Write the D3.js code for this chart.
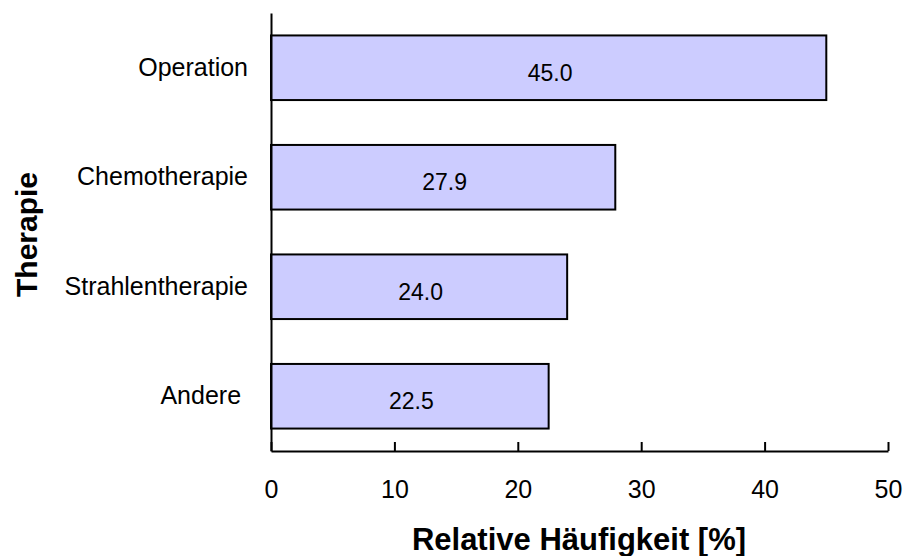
<!DOCTYPE html>
<html><head><meta charset="utf-8">
<script src="https://cdn.jsdelivr.net/npm/d3@7"></script>
<style>body{margin:0;background:#fff}svg{display:block;font-family:"Liberation Sans",Arial,sans-serif}</style>
</head><body><svg id="c" width="906" height="556"></svg>
<script>
const categories = ["Operation", "Chemotherapie", "Strahlentherapie", "Andere "];
const values = [45.0, 27.9, 24.0, 22.5];
const xTicks = [0, 10, 20, 30, 40, 50];
const xTitle = "Relative Häufigkeit [%]";
const yTitle = "Therapie";

const FF = "Liberation Sans, Arial, sans-serif";
const svg = d3.select("#c");
const pL = 271, pR = 888, pT = 13, pB = 451;
const x = d3.scaleLinear().domain([0, 50]).range([pL, pR]);
const y = d3.scaleBand().domain(categories).range([pT, pB]).paddingInner(0.41).paddingOuter(0.205);

// bars
svg.selectAll("rect.bar").data(values).enter().append("rect")
  .attr("x", x(0)).attr("y", (d,i)=>y(categories[i]))
  .attr("width", d=>x(d)-x(0)).attr("height", y.bandwidth())
  .attr("fill", "#ccccff").attr("stroke", "#000").attr("stroke-width", 2);

// value labels
svg.selectAll("text.val").data(values).enter().append("text")
  .attr("x", d=>(x(0)+x(d))/2 + 1.5).attr("y", (d,i)=>y(categories[i]) + y.bandwidth()/2 + 13)
  .attr("text-anchor", "middle").attr("font-size", 23).attr("font-family", FF).attr("fill", "#000")
  .text(d=>d.toFixed(1));

// x axis
const xAxis = d3.axisBottom(x).tickValues(xTicks).tickSizeInner(-9).tickSizeOuter(0);
const gx = svg.append("g").attr("transform", `translate(0,${pB})`).call(xAxis);
gx.select(".domain").attr("stroke-width", 2);
gx.selectAll(".tick line").attr("stroke-width", 2);
gx.selectAll(".tick text").attr("font-size", 25).attr("font-family", FF).attr("fill","#000")
  .attr("y", 47).attr("dy", 0);

// y axis
const yAxis = d3.axisLeft(y).tickSize(0).tickPadding(23);
const gy = svg.append("g").attr("transform", `translate(${pL},0)`).call(yAxis);
gy.select(".domain").attr("stroke-width", 2);
gy.selectAll(".tick text").attr("font-size", 25).attr("font-family", FF).attr("fill","#000")
  .attr("dy", 0).attr("y", 8).style("white-space", "pre");

// titles
svg.append("text").attr("x", 579).attr("y", 550).attr("text-anchor", "middle")
  .attr("font-size", 31).attr("font-weight", "bold").attr("font-family", FF).text(xTitle);
svg.append("text").attr("transform", "translate(36.5,234.5) rotate(-90)").attr("text-anchor", "middle")
  .attr("font-size", 30).attr("font-weight", "bold").attr("font-family", FF).text(yTitle);
</script></body></html>
